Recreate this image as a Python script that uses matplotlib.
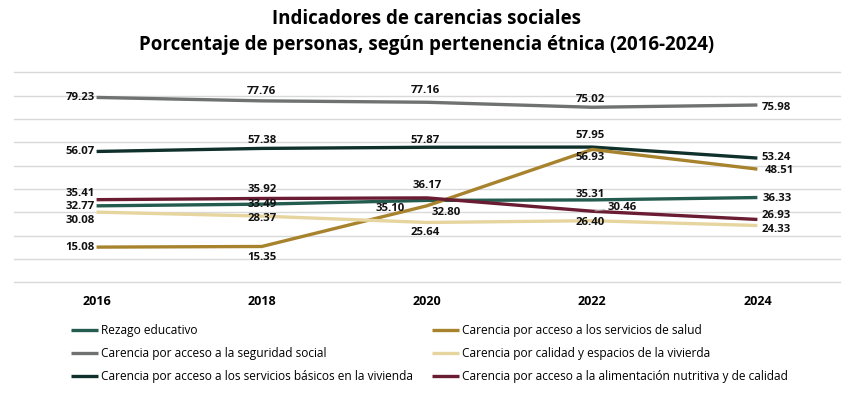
import matplotlib
matplotlib.use("Agg")
import matplotlib.pyplot as plt

years = ["2016", "2018", "2020", "2022", "2024"]

rezago = [32.77, 33.49, 35.10, 35.31, 36.33]
salud = [15.08, 15.35, 32.80, 56.93, 48.51]
seguridad = [79.23, 77.76, 77.16, 75.02, 75.98]
calidad = [30.08, 28.37, 25.64, 26.40, 24.33]
basicos = [56.07, 57.38, 57.87, 57.95, 53.24]
alimentacion = [35.41, 35.92, 36.17, 30.46, 26.93]

names = ["Rezago educativo",
         "Carencia por acceso a la seguridad social",
         "Carencia por acceso a los servicios básicos en la vivienda",
         "Carencia por acceso a los servicios de salud",
         "Carencia por calidad y espacios de la vivierda",
         "Carencia por acceso a la alimentación nutritiva y de calidad"]

colors = ["#235b4e", "#6f7271", "#10312b", "#a8832e", "#e6d59f", "#691c32"]

# label offsets in pixels (dx, dy, ha) per point
L, R, C = "right", "left", "center"
offsets = [
    [(-2, -1, L), (0, 0, C), (-37, -8.5, C), (-2, 5.5, C), (5, -1, R)],        # rezago
    [(-2, 0, L), (0, 9, C), (-2, 11.5, C), (-2, 8, C), (4, -2, R)],            # seguridad
    [(-2, 0, L), (0, 8, C), (-2, 7, C), (-2, 12, C), (4, 1, R)],               # basicos
    [(-2, 0, L), (0, -11, C), (19, -6.5, C), (-2, -8, C), (7, -1.5, R)],       # salud
    [(-2, -8.5, L), (0, -2, C), (-2, -10, C), (-2, -1.3, C), (4, -3.5, R)],    # calidad
    [(-2, 6.5, L), (0, 8.5, C), (0, 12, C), (15, 3.5, R), (4, 3.5, R)],        # alimentacion
]

series = [rezago, seguridad, basicos, salud, calidad, alimentacion]
draw_order = [4, 3, 1, 0, 2, 5]

plt.rcParams["font.family"] = ["Open Sans", "DejaVu Sans"]

fig = plt.figure(figsize=(8.54, 3.98), dpi=100)
ax = fig.add_axes([14 / 854, 1 - 282.3 / 398, 826 / 854, 210 / 398])

x = list(range(len(years)))
lines = {}
for i in draw_order:
    ln, = ax.plot(x, series[i], color=colors[i], lw=2.4, solid_capstyle="butt",
                  label=names[i], zorder=3 + i)
    lines[i] = ln

for i, vals in enumerate(series):
    for j, v in enumerate(vals):
        dx, dy, ha = offsets[i][j]
        kw = {}
        if i == 5 and j == 3:
            kw["arrowprops"] = dict(arrowstyle="-", color="#a0a0a0", lw=0.8,
                                    shrinkA=0, shrinkB=2)
        ax.annotate(f"{v:.2f}", (j, v), xytext=(dx, dy), textcoords="offset pixels",
                    ha=ha, va="center", fontsize=8.2, fontweight="bold",
                    color="#111111", zorder=20, **kw)

ax.set_xlim(-0.5, 4.5)
ax.set_ylim(0, 90)
ax.set_yticks(range(0, 100, 10))
ax.yaxis.grid(True, color="#d9d9d9", lw=1)
for gl in ax.get_ygridlines():
    gl.set_clip_on(False)
ax.set_axisbelow(True)
ax.tick_params(axis="y", left=False, labelleft=False)
ax.set_xticks(x)
ax.set_xticklabels(years, fontsize=9, fontweight="bold")
ax.tick_params(axis="x", length=0, pad=9)
for s in ax.spines.values():
    s.set_visible(False)

fig.text(0.5, 1 - 19 / 398, "Indicadores de carencias sociales", ha="center", va="center",
         fontsize=13.5, fontweight="bold")
fig.text(0.5, 1 - 45 / 398, "Porcentaje de personas, según pertenencia étnica (2016-2024)",
         ha="center", va="center", fontsize=13.5, fontweight="bold")

handles = [lines[i] for i in range(6)]
fig.legend(handles, names, ncol=2, loc="upper left", bbox_to_anchor=(60 / 854, 1 - 313 / 398),
           frameon=False, fontsize=8.6, handlelength=2.3, handletextpad=0.2,
           columnspacing=1.6, labelspacing=0.85)

fig.savefig("out.png", dpi=100)
